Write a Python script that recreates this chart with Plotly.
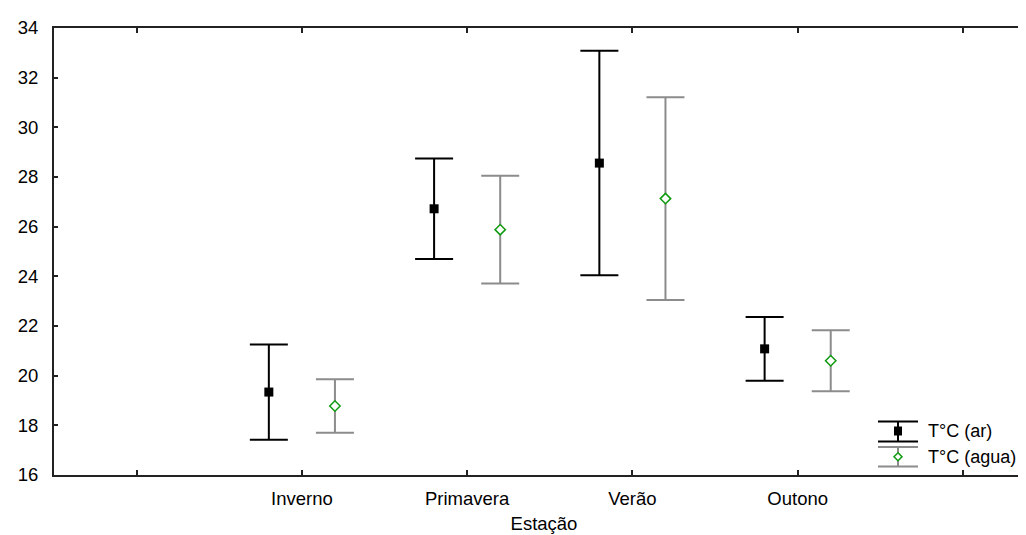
import plotly.graph_objects as go

categories = ["Inverno", "Primavera", "Verão", "Outono"]
cat_pos = [1, 2, 3, 4]
tick_vals = [0, 1, 2, 3, 4, 5]
tick_text = [""] + categories + [""]

ar_mean = [19.34, 26.72, 28.56, 21.08]
ar_err = [1.92, 2.02, 4.52, 1.28]
agua_mean = [18.78, 25.88, 27.13, 20.60]
agua_err = [1.08, 2.17, 4.08, 1.23]

series_names = ["T°C (ar)", "T°C (agua)"]
y_ticks = [16, 18, 20, 22, 24, 26, 28, 30, 32, 34]

W, H = 1026, 535
ML, MR, MT, MB = 46, 0, 20, 68
PW, PH = W - ML - MR, H - MT - MB

FONT = "Liberation Sans, Arial, sans-serif"
GRAY = "#8c8c8c"
GREEN = "#109a10"

fig = go.Figure()
fig.add_trace(go.Scatter(
    x=[p - 0.2 for p in cat_pos], y=ar_mean, mode="markers", name=series_names[0],
    marker=dict(symbol="square", size=9, color="black"),
    error_y=dict(type="data", array=ar_err, visible=True, color="black", thickness=2, width=19),
    showlegend=False,
))
fig.add_trace(go.Scatter(
    x=[p + 0.2 for p in cat_pos], y=agua_mean, mode="markers", name=series_names[1],
    marker=dict(symbol="diamond", size=8, color="white", line=dict(color=GREEN, width=1.5)),
    error_y=dict(type="data", array=agua_err, visible=True, color=GRAY, thickness=2, width=19),
    showlegend=False,
))


def px(xp):
    return (xp - ML) / PW


def py(yp):
    return (H - MB - yp) / PH


shapes = []
# legend entry 1 (ar)
for yy in (413.5, 433.5):
    shapes.append(dict(type="line", xref="paper", yref="paper", x0=px(870), x1=px(910),
                       y0=py(yy), y1=py(yy), line=dict(color="black", width=2)))
shapes.append(dict(type="line", xref="paper", yref="paper", x0=px(890), x1=px(890),
                   y0=py(413.5), y1=py(433.5), line=dict(color="black", width=2)))
shapes.append(dict(type="rect", xref="paper", yref="paper", x0=px(886), x1=px(894),
                   y0=py(418.5), y1=py(427.5), fillcolor="black", line=dict(width=0)))
# legend entry 2 (agua)
for yy in (439, 458.5):
    shapes.append(dict(type="line", xref="paper", yref="paper", x0=px(870), x1=px(910),
                       y0=py(yy), y1=py(yy), line=dict(color=GRAY, width=2)))
shapes.append(dict(type="line", xref="paper", yref="paper", x0=px(890), x1=px(890),
                   y0=py(439), y1=py(458.5), line=dict(color=GRAY, width=2)))
cx, cy = 890, 448.7
path = "M {} {} L {} {} L {} {} L {} {} Z".format(
    px(cx), py(cy - 4), px(cx + 4), py(cy), px(cx), py(cy + 4), px(cx - 4), py(cy))
shapes.append(dict(type="path", xref="paper", yref="paper", path=path,
                   fillcolor="white", line=dict(color=GREEN, width=1.5)))

annotations = [
    dict(text=series_names[0], xref="paper", yref="paper", x=px(918), y=py(423),
         xanchor="left", yanchor="middle", showarrow=False,
         font=dict(family=FONT, size=18, color="black")),
    dict(text=series_names[1], xref="paper", yref="paper", x=px(918), y=py(448.5),
         xanchor="left", yanchor="middle", showarrow=False,
         font=dict(family=FONT, size=18, color="black")),
]

fig.update_layout(
    width=W, height=H,
    margin=dict(l=ML, r=MR, t=MT, b=MB, pad=0),
    paper_bgcolor="white", plot_bgcolor="white",
    font=dict(family=FONT, size=18, color="black"),
    shapes=shapes, annotations=annotations,
    xaxis=dict(
        range=[-0.5, 5.43], tickmode="array", tickvals=tick_vals, ticktext=tick_text,
        showgrid=False, zeroline=False, showline=True, linecolor="#222", linewidth=2,
        mirror="ticks", ticks="inside", ticklen=5, tickwidth=2, tickcolor="#222",
        tickfont=dict(family=FONT, size=18.5, color="black"),
        ticklabelstandoff=6,
        title=dict(text="Estação", font=dict(family=FONT, size=18.5, color="black"), standoff=9),
    ),
    yaxis=dict(
        range=[16, 34], tickmode="array", tickvals=y_ticks,
        showgrid=False, zeroline=False, showline=True, linecolor="#222", linewidth=2,
        ticks="inside", ticklen=4, tickwidth=1.5, tickcolor="#222",
        tickfont=dict(family=FONT, size=18.5, color="black"),
        ticklabelstandoff=10,
    ),
)

fig.write_html("out.html")
